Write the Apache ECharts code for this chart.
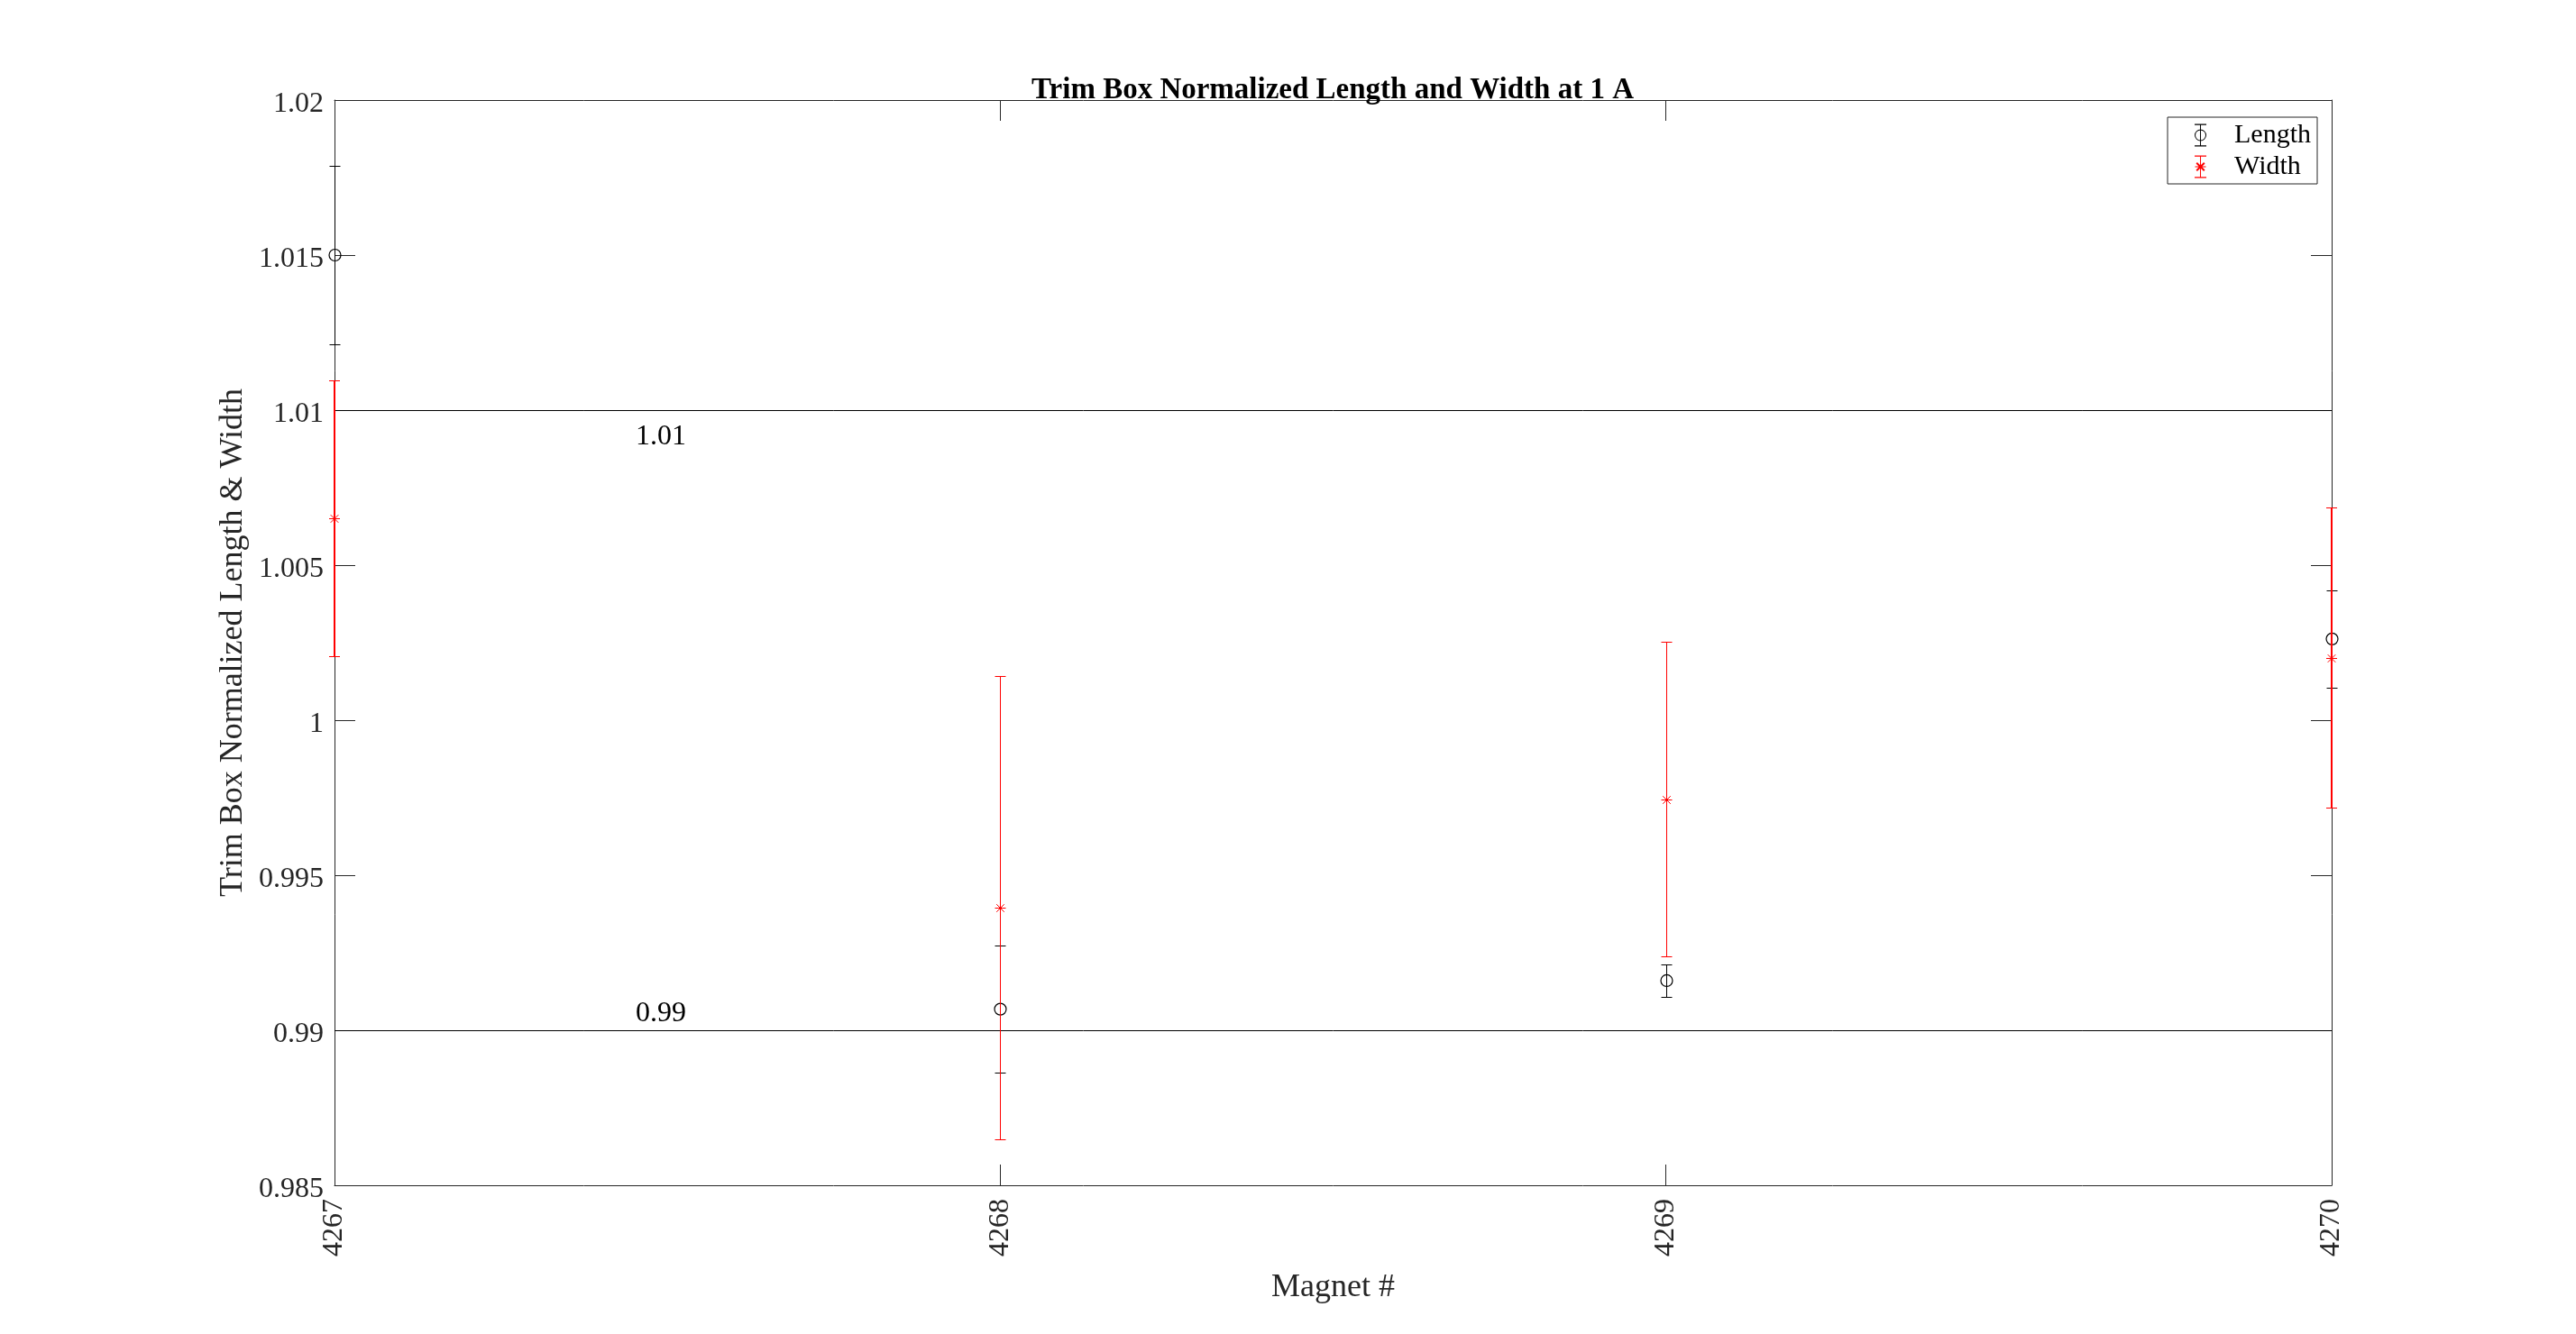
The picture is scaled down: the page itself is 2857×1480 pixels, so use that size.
<!DOCTYPE html>
<html>
<head>
<meta charset="utf-8">
<script src="https://cdn.jsdelivr.net/npm/echarts@6/dist/echarts.min.js"></script>
<style>
html,body{margin:0;padding:0;background:#fff;}
#chart{width:2857px;height:1480px;}
</style>
</head>
<body>
<div id="chart"></div>
<script>
// ---- data ----
var magnets = [4267, 4268, 4269, 4270];
var lengthMean = [1.01500, 0.99068, 0.99160, 1.00262];
var lengthErr  = [0.00287, 0.00206, 0.00052, 0.00157];
var widthMean  = [1.00651, 0.99395, 0.99745, 1.00202];
var widthErr   = [0.00445, 0.00748, 0.00508, 0.00484];
var refLines   = [1.01, 0.99];
var refLabels  = ['1.01', '0.99'];
var yMin = 0.985, yMax = 1.02, yStep = 0.005;
var xMin = 4267, xMax = 4270, xStep = 1;

var FONT = 'Liberation Serif';
var AX = '#262626';
var RED = '#FF0000';

var lengthIcon = 'path://M0,0 L13,0 L13,1.2 L0,1.2 Z M0,23.8 L13,23.8 L13,25 L0,25 Z M6,0 L7,0 L7,25 L6,25 Z ' +
  'M0,12.5 A6.5,6.5 0 1 1 13,12.5 A6.5,6.5 0 1 1 0,12.5 Z M1,12.5 A5.5,5.5 0 1 0 12,12.5 A5.5,5.5 0 1 0 1,12.5 Z';
var widthIcon = 'path://M0,0 L13,0 L13,1.2 L0,1.2 Z M0,23.8 L13,23.8 L13,25 L0,25 Z M6,0 L7,0 L7,25 L6,25 Z ' +
  'M0.5,12 L12.5,12 L12.5,13 L0.5,13 Z M1.5,8.9 L2.9,7.5 L11.5,16.1 L10.1,17.5 Z M10.1,7.5 L11.5,8.9 L2.9,17.5 L1.5,16.1 Z';

function crisp(v) { return Math.round(v) + 0.5; }

function errSeries(name, color, means, errs, marker, edgeWidth) {
  return {
    type: 'custom',
    name: name,
    clip: false,
    zlevel: 1,
    z: 20,
    xAxisIndex: 0, yAxisIndex: 0,
    itemStyle: { color: color },
    encode: { x: 0, y: 1 },
    data: magnets.map(function (m, i) { return [m, means[i], errs[i]]; }),
    renderItem: function (params, api) {
      var x = api.value(0), m = api.value(1), e = api.value(2);
      var pt = api.coord([x, m + e]);
      var pb = api.coord([x, m - e]);
      var pm = api.coord([x, m]);
      var onEdge = (x === xMin || x === xMax) && edgeWidth > 1;
      var cx = onEdge ? Math.round(pt[0]) : crisp(pt[0]);
      var yt = crisp(pt[1]), yb = crisp(pb[1]);
      var hw = 6;
      var st = { stroke: color, lineWidth: 1, fill: null };
      var ch = [
        { type: 'line', shape: { x1: cx, y1: yt, x2: cx, y2: yb }, style: { stroke: color, lineWidth: onEdge ? edgeWidth : 1, fill: null } },
        { type: 'line', shape: { x1: cx - hw, y1: yt, x2: cx + hw, y2: yt }, style: st },
        { type: 'line', shape: { x1: cx - hw, y1: yb, x2: cx + hw, y2: yb }, style: st }
      ];
      var cy = pm[1];
      if (marker === 'circle') {
        ch.push({ type: 'circle', shape: { cx: cx, cy: cy, r: 6.5 }, style: { stroke: color, fill: null, lineWidth: 1.2 } });
      } else {
        var r = 6, d = 4.3;
        var y0 = crisp(cy);
        ch.push({ type: 'line', shape: { x1: cx - r, y1: y0, x2: cx + r, y2: y0 }, style: st });
        ch.push({ type: 'line', shape: { x1: cx, y1: y0 - r, x2: cx, y2: y0 + r }, style: st });
        ch.push({ type: 'line', shape: { x1: cx - d, y1: y0 - d, x2: cx + d, y2: y0 + d }, style: st });
        ch.push({ type: 'line', shape: { x1: cx - d, y1: y0 + d, x2: cx + d, y2: y0 - d }, style: st });
      }
      return { type: 'group', children: ch };
    }
  };
}

var chart = echarts.init(document.getElementById('chart'), null, { renderer: 'canvas' });

var axisCommon = {
  z: 0,
  axisLine: { show: true, lineStyle: { color: AX, width: 1 } },
  axisTick: { show: true, inside: true, length: 23, lineStyle: { color: AX, width: 1 } },
  splitLine: { show: false }
};

var option = {
  backgroundColor: '#ffffff',
  animation: false,
  textStyle: { fontFamily: FONT },
  title: {
    text: 'Trim Box Normalized Length and Width at 1 A',
    left: 1478, top: 84, padding: 0,
    textAlign: 'center',
    textStyle: { fontFamily: FONT, fontSize: 33, fontWeight: 'bold', color: '#000' }
  },
  legend: {
    data: [
      { name: 'Length', icon: lengthIcon, itemStyle: { color: '#000', borderWidth: 0 } },
      { name: 'Width', icon: widthIcon, itemStyle: { color: RED, borderWidth: 0 } }
    ],
    orient: 'vertical',
    right: 287, top: 130,
    itemWidth: 13, itemHeight: 25, itemGap: 5,
    padding: [5, 7, 4, 30],
    borderColor: AX, borderWidth: 1,
    backgroundColor: '#fff',
    textStyle: { fontFamily: FONT, fontSize: 30, color: '#000', padding: [0, 0, 0, 26] }
  },
  grid: { left: 371, right: 271, top: 111, bottom: 165, containLabel: false },
  xAxis: [
    Object.assign({
      type: 'value', position: 'bottom', min: xMin, max: xMax, interval: xStep,
      name: 'Magnet #', nameLocation: 'middle', nameGap: 96,
      nameTextStyle: { fontFamily: FONT, fontSize: 36, color: AX },
      axisLabel: { rotate: 90, margin: 15, fontFamily: FONT, fontSize: 32, color: AX,
        formatter: function (v) { return String(v); } }
    }, axisCommon),
    Object.assign({
      type: 'value', position: 'top', min: xMin, max: xMax, interval: xStep,
      axisLabel: { show: false }
    }, axisCommon)
  ],
  yAxis: [
    Object.assign({
      type: 'value', position: 'left', min: yMin, max: yMax, interval: yStep,
      name: 'Trim Box Normalized Length & Width', nameLocation: 'middle', nameGap: 91,
      nameTextStyle: { fontFamily: FONT, fontSize: 36, color: AX },
      axisLabel: { margin: 12, fontFamily: FONT, fontSize: 32, color: AX,
        verticalAlign: 'top', lineHeight: 10,
        formatter: function (v) { return String(+v.toFixed(3)); } }
    }, axisCommon),
    Object.assign({
      type: 'value', position: 'right', min: yMin, max: yMax, interval: yStep,
      axisLabel: { show: false }
    }, axisCommon)
  ],
  series: [
    {
      type: 'line', name: 'refs', data: [], silent: true, z: 5,
      xAxisIndex: 0, yAxisIndex: 0,
      markLine: {
        silent: true, symbol: ['none', 'none'], animation: false,
        lineStyle: { color: '#000', width: 1, type: 'solid' },
        data: refLines.map(function (v, i) {
          return {
            yAxis: v,
            label: {
              show: true, formatter: refLabels[i],
              position: i === 0 ? 'insideStartBottom' : 'insideStartTop',
              distance: [334, i === 0 ? 14 : 2],
              fontFamily: FONT, fontSize: 32, color: '#000'
            }
          };
        })
      }
    },
    errSeries('Length', '#000', lengthMean, lengthErr, 'circle', 1),
    errSeries('Width', RED, widthMean, widthErr, 'star', 2)
  ]
};
chart.setOption(option);
</script>
</body>
</html>
